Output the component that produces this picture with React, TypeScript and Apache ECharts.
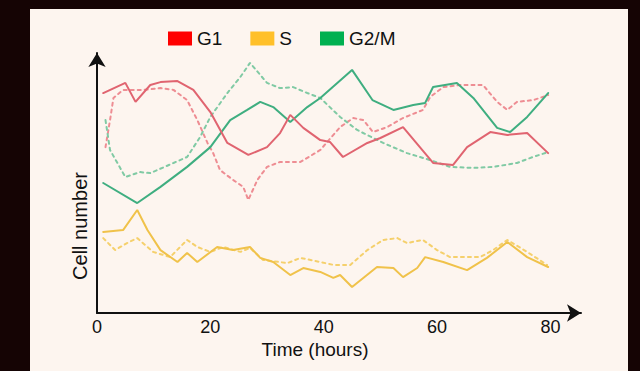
import React, { useEffect, useRef } from "react";
import * as echarts from "echarts";

// Time axis ticks (hours)
const xTicks = [0, 20, 40, 60, 80];
const legendNames = ["G1", "S", "G2/M"];

// G1 – solid
const g1SolidHours = [1.1, 5, 6.8, 9.4, 11.2, 14.2, 17, 20, 23, 26.7, 30, 32.3, 34.1, 36.4, 39.4, 41.1, 43.4, 47.7, 50, 54, 59.3, 62.8, 65.3, 69.4, 72.4, 75.9, 79.6];
const g1SolidCells = [84.6, 88.5, 81.2, 87.7, 88.8, 89.2, 85.8, 77.3, 65.4, 60.8, 63.8, 69.2, 76.2, 71.2, 66.5, 65.8, 60, 65.4, 67.3, 71.5, 57.7, 56.9, 63.8, 69.6, 68.5, 69.2, 61.5];
// G1 – dashed
const g1DashHours = [1.5, 2.3, 2.9, 4.6, 8.2, 11.2, 13.5, 15.9, 17.7, 19.5, 20.5, 21.7, 24, 25.8, 26.7, 28.3, 30, 32.3, 35.9, 39.4, 42.9, 45.2, 47, 48.7, 51.2, 54, 57.5, 58.8, 61.1, 64.1, 68.1, 70.6, 72.4, 74.1, 77, 79.6];
const g1DashCells = [63.8, 74.2, 82.7, 85.8, 85.8, 86.5, 85.8, 81.9, 74.2, 65.4, 61.5, 55, 51.2, 48.5, 43.5, 51.2, 56.2, 58.1, 58.1, 62.7, 71.5, 75, 74.2, 69.6, 71.5, 75, 78.1, 83.1, 86.9, 87.7, 87.7, 81.2, 78.1, 81.2, 81.9, 83.8];

// G2/M – solid
const g2mSolidHours = [1.1, 7.1, 11.2, 15.9, 20, 23.5, 26.5, 28.8, 31.1, 34.1, 37.1, 39.4, 45, 48.6, 52.3, 55.8, 57.9, 59.3, 63.5, 66.4, 70.6, 72.9, 75.9, 79.6];
const g2mSolidCells = [50, 42.3, 48.5, 56.2, 63.8, 74.2, 78.1, 81.2, 79.2, 73.5, 79.2, 82.7, 93.5, 81.9, 78.1, 80, 80.8, 86.9, 88.5, 82.7, 71.2, 69.6, 75.4, 84.6];
// G2/M – dashed
const g2mDashHours = [1.5, 2.3, 5, 7.6, 9.4, 13.5, 15.9, 18.2, 20, 23, 25.3, 27, 30, 32.3, 34.6, 37.1, 39.4, 42.9, 45.9, 50.5, 54.7, 58.8, 62.3, 66.4, 69.9, 74.1, 76.9, 79.6];
const g2mDashCells = [74.2, 62.7, 52.3, 54.2, 53.8, 57.7, 60, 67.7, 75.4, 84.6, 90.8, 96.2, 88.5, 86.5, 86.9, 84.6, 82.7, 75.4, 70.4, 65.4, 61.5, 58.8, 56.2, 55.8, 56.2, 57.7, 60, 61.9];

// S – solid
const sSolidHours = [1.1, 4.6, 7.1, 8.9, 11.2, 14.2, 15.9, 17.7, 21.2, 24, 27, 28.8, 31.1, 34.1, 36.4, 39.4, 41.7, 42.9, 45, 49.4, 52.3, 54, 56.5, 57.9, 61.1, 65.3, 68.8, 72.4, 75.9, 79.6];
const sSolidCells = [31.2, 31.9, 39.6, 31.9, 24.2, 19.6, 23.1, 19.6, 25.4, 24.2, 25.4, 21.2, 19.6, 14.6, 17.3, 15.8, 13.5, 14.6, 10, 17.7, 17.3, 13.8, 17.3, 21.5, 19.6, 16.5, 21.2, 27.3, 21.5, 17.7];
// S – dashed
const sDashHours = [1.1, 3.2, 5.3, 7.1, 9.9, 12.9, 15.9, 17.7, 20, 22.3, 25.3, 27, 29.3, 33.6, 35.9, 39.4, 41.7, 44.7, 47.7, 50.5, 53, 54.7, 57.5, 60, 62.3, 67.6, 69.9, 72.4, 75.9, 79.4];
const sDashCells = [28.8, 24.2, 26.9, 28.8, 23.5, 21.5, 28.1, 25.4, 23.5, 25.4, 23.5, 25, 20.4, 19.2, 21.2, 19.6, 18.5, 18.5, 24.2, 28.1, 28.8, 26.9, 28.1, 24.2, 21.5, 21.5, 24.2, 28.1, 23.5, 18.5];

const zip = (xs: number[], ys: number[]) => xs.map((x, i) => [x, ys[i]]);

const FONT = "'Liberation Sans', Arial, sans-serif";

function buildOption() {
  const line = (name: string, hours: number[], cells: number[], color: string, dashed: boolean) => ({
    type: "line",
    name,
    data: zip(hours, cells),
    showSymbol: false,
    smooth: false,
    lineStyle: { color, width: 2, type: dashed ? [3, 4] : "solid", cap: "round" },
    itemStyle: { color },
    emphasis: { disabled: true },
    z: dashed ? 2 : 3,
  });
  return {
    animation: false,
    textStyle: { fontFamily: FONT },
    graphic: [
      { type: "rect", z: -100, silent: true, shape: { x: 30, y: 9, width: 598, height: 370 }, style: { fill: "#fdf5ef" } },
      {
        type: "text",
        x: 80,
        y: 226,
        rotation: Math.PI / 2,
        silent: true,
        style: { text: "Cell number", fontSize: 20, fontFamily: FONT, fill: "#111", align: "center", verticalAlign: "middle", textAlign: "center", textVerticalAlign: "middle" },
      },
      {
        type: "text",
        x: 315,
        y: 349,
        silent: true,
        style: { text: "Time (hours)", fontSize: 19, fontFamily: FONT, fill: "#111", align: "center", verticalAlign: "middle", textAlign: "center", textVerticalAlign: "middle" },
      },
    ],
    legend: {
      left: 163,
      top: 24,
      icon: "rect",
      itemWidth: 24,
      itemHeight: 14,
      itemGap: 28,
      textStyle: { fontSize: 19, color: "#111", fontFamily: FONT },
      data: [
        { name: legendNames[0], itemStyle: { color: "#ff0000" } },
        { name: legendNames[1], itemStyle: { color: "#ffc02a" } },
        { name: legendNames[2], itemStyle: { color: "#00b050" } },
      ],
    },
    grid: { left: 97, right: 59, top: 53, bottom: 58 },
    xAxis: {
      type: "value",
      min: 0,
      max: 85.4,
      interval: 20,
      axisLine: { show: true, lineStyle: { color: "#111", width: 2 }, symbol: ["none", "arrow"], symbolSize: [13, 14] },
      axisTick: { show: false },
      splitLine: { show: false },
      axisLabel: {
        margin: 5,
        fontSize: 18,
        color: "#111",
        fontFamily: FONT,
        formatter: (v: number) => (xTicks.includes(v) ? String(v) : ""),
      },
    },
    yAxis: {
      type: "value",
      min: 0,
      max: 100,
      axisLine: { show: true, lineStyle: { color: "#111", width: 2 }, symbol: ["none", "arrow"], symbolSize: [13, 14] },
      axisTick: { show: false },
      splitLine: { show: false },
      axisLabel: { show: false },
    },
    series: [
      line("G1 model", g1DashHours, g1DashCells, "#ee8d93", true),
      line("G2/M model", g2mDashHours, g2mDashCells, "#80caa4", true),
      line("S model", sDashHours, sDashCells, "#f5d06c", true),
      line("S", sSolidHours, sSolidCells, "#f0c24a", false),
      line("G2/M", g2mSolidHours, g2mSolidCells, "#3fae80", false),
      line("G1", g1SolidHours, g1SolidCells, "#e06470", false),
    ],
  };
}

export default function App() {
  const ref = useRef<HTMLDivElement>(null);
  useEffect(() => {
    document.body.style.margin = "0";
    const chart = echarts.init(ref.current!, null, { renderer: "svg" });
    chart.setOption(buildOption() as any);
    return () => chart.dispose();
  }, []);
  return <div ref={ref} style={{ width: 640, height: 371, background: "#150404" }} />;
}
